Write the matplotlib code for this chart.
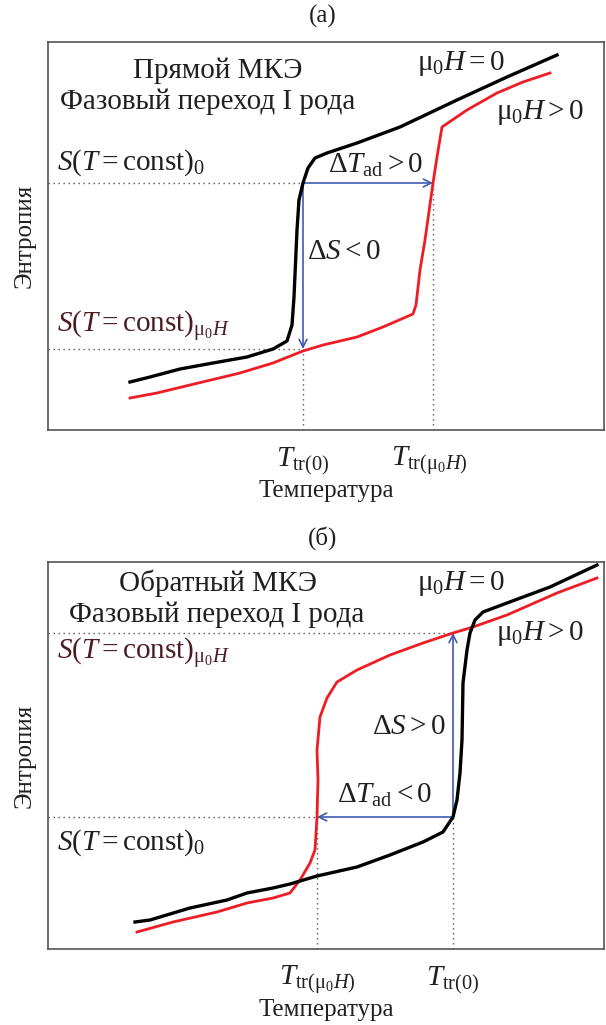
import matplotlib
matplotlib.use("Agg")
import matplotlib.pyplot as plt

plt.rcParams['font.family'] = ['Liberation Serif', 'DejaVu Serif']
plt.rcParams['mathtext.fontset'] = 'custom'
plt.rcParams['mathtext.rm'] = 'Liberation Serif'
plt.rcParams['mathtext.it'] = 'Liberation Serif:italic'
plt.rcParams['mathtext.bf'] = 'Liberation Serif:bold'

# panel (a): direct MCE, arbitrary units (T to the right, S upwards)
a_black_T = [130, 150, 180, 213, 247, 273, 287, 292, 294, 297, 299, 303, 308, 315, 327, 357, 400, 457, 507, 557]
a_black_S = [48, 53, 61, 67, 73, 81, 89, 105, 133, 200, 230, 247, 262, 272, 277, 287, 303, 330, 353, 375]
a_red_T = [130, 157, 190, 240, 273, 303, 323, 357, 383, 413, 416, 420, 425, 433, 437, 442, 467, 497, 523, 550]
a_red_S = [32, 37, 45, 57, 67, 79, 85, 93, 103, 116, 125, 160, 190, 247, 273, 303, 320, 337, 348, 357]
a_S0, a_SH = 247, 81
a_Ttr0, a_TtrH = 303, 433

# panel (b): inverse MCE
b_black_T = [135, 150, 190, 227, 247, 273, 290, 317, 357, 390, 423, 443, 453, 457, 460, 462, 463, 467, 470, 475, 483, 507, 550, 597]
b_black_S = [27, 29, 41, 49, 56, 61, 65, 73, 82, 94, 107, 117, 132, 149, 176, 209, 266, 299, 316, 329, 337, 346, 362, 384]
b_red_T = [137, 173, 217, 247, 273, 290, 300, 310, 315, 317, 318, 317, 320, 327, 337, 357, 390, 423, 453, 473, 507, 557, 597]
b_red_S = [17, 27, 37, 46, 51, 56, 69, 86, 99, 132, 169, 199, 232, 251, 267, 279, 294, 306, 316, 322, 334, 356, 371]
b_S0, b_SH = 132, 316
b_Ttr0, b_TtrH = 453, 317

TXT = '#231f20'
MAROON = '#4b1c22'
BLUE = '#3f5ab0'
GRID = '#555555'
FS = 21
LFS = 18

fig = plt.figure(figsize=(6.06, 10.25), dpi=100)
ax1 = fig.add_axes([48/606, 1 - 430/1025, 556/606, 388/1025])
ax2 = fig.add_axes([48/606, 1 - 949/1025, 556/606, 387/1025])


def setup(ax, top):
    ax.set_xlim(48, 604)
    ax.set_ylim(0, top)
    ax.set_xticks([])
    ax.set_yticks([])
    for sp in ax.spines.values():
        sp.set_color(GRID)
        sp.set_linewidth(1.2)
    ax.set_xlabel('Температура', fontsize=LFS, color=TXT, labelpad=36)
    ax.set_ylabel('Энтропия', fontsize=LFS, color=TXT, labelpad=9)


def dotted(ax, xs, ys):
    ax.plot(xs, ys, color=GRID, lw=1.0, ls=(0, (1, 2.6)), zorder=1)


def arrow(ax, x0, y0, x1, y1):
    ax.annotate('', xy=(x1, y1), xytext=(x0, y0),
                arrowprops=dict(arrowstyle='->', color=BLUE, lw=1.2,
                                shrinkA=0, shrinkB=0, mutation_scale=14),
                zorder=2)


mu = r'\mathrm{\mu}'
S0_lbl = r'$S(T = \mathrm{const})_0$'
SH_lbl = r'$S(T = \mathrm{const})_{' + mu + r'_0 H}$'
H0_lbl = r'$' + mu + r'_0 H = 0$'
Hp_lbl = r'$' + mu + r'_0 H > 0$'
Ttr0_lbl = r'$T_{\mathrm{tr(0)}}$'
TtrH_lbl = r'$T_{\mathrm{tr}(' + mu + r'_0 H)}$'

# ---------- (a)
setup(ax1, 388)
dotted(ax1, [48, a_Ttr0], [a_S0, a_S0])
dotted(ax1, [48, a_Ttr0], [a_SH, a_SH])
dotted(ax1, [a_Ttr0, a_Ttr0], [0, a_SH])
dotted(ax1, [a_TtrH, a_TtrH], [0, a_S0])
ax1.plot(a_red_T, a_red_S, color='#ee1c24', lw=2.0, zorder=3)
ax1.plot(a_black_T, a_black_S, color='black', lw=2.4, zorder=4)
arrow(ax1, a_Ttr0, a_S0, a_TtrH, a_S0)
arrow(ax1, a_Ttr0, a_S0, a_Ttr0, a_SH)

ax1.text(218, 359, 'Прямой МКЭ', fontsize=FS, color=TXT, ha='center', va='center')
ax1.text(208, 328, 'Фазовый переход I рода', fontsize=FS, color=TXT, ha='center', va='center')
ax1.text(461, 366, H0_lbl, fontsize=FS, color=TXT, ha='center', va='center')
ax1.text(540, 317, Hp_lbl, fontsize=FS, color=TXT, ha='center', va='center')
ax1.text(57, 267, S0_lbl, fontsize=FS, color=TXT, ha='left', va='center')
ax1.text(376, 265, r'$\Delta T_{\mathrm{ad}} > 0$', fontsize=FS, color=TXT, ha='center', va='center')
ax1.text(307, 178, r'$\Delta S < 0$', fontsize=FS, color=TXT, ha='left', va='center')
ax1.text(57, 103, SH_lbl, fontsize=FS, color=MAROON, ha='left', va='center')
ax1.text(a_Ttr0, -31, Ttr0_lbl, fontsize=FS, color=TXT, ha='center', va='center', clip_on=False)
ax1.text(a_TtrH - 4, -31, TtrH_lbl, fontsize=FS, color=TXT, ha='center', va='center', clip_on=False)
fig.text(323/606, 1 - 16/1025, '(а)', fontsize=LFS, color=TXT, ha='center', va='center')

# ---------- (б)
setup(ax2, 387)
dotted(ax2, [48, b_Ttr0], [b_SH, b_SH])
dotted(ax2, [48, b_TtrH], [b_S0, b_S0])
dotted(ax2, [b_TtrH, b_TtrH], [0, b_S0])
dotted(ax2, [b_Ttr0, b_Ttr0], [0, b_S0])
ax2.plot(b_red_T, b_red_S, color='#ee1c24', lw=2.0, zorder=3)
ax2.plot(b_black_T, b_black_S, color='black', lw=2.4, zorder=4)
arrow(ax2, b_Ttr0, b_S0, b_Ttr0, b_SH)
arrow(ax2, b_Ttr0, b_S0, b_TtrH, b_S0)

ax2.text(218, 366, 'Обратный МКЭ', fontsize=FS, color=TXT, ha='center', va='center')
ax2.text(217, 334, 'Фазовый переход I рода', fontsize=FS, color=TXT, ha='center', va='center')
ax2.text(461, 365, H0_lbl, fontsize=FS, color=TXT, ha='center', va='center')
ax2.text(540, 316, Hp_lbl, fontsize=FS, color=TXT, ha='center', va='center')
ax2.text(57, 296, SH_lbl, fontsize=FS, color=MAROON, ha='left', va='center')
ax2.text(409, 222, r'$\Delta S > 0$', fontsize=FS, color=TXT, ha='center', va='center')
ax2.text(385, 154, r'$\Delta T_{\mathrm{ad}} < 0$', fontsize=FS, color=TXT, ha='center', va='center')
ax2.text(57, 106, S0_lbl, fontsize=FS, color=TXT, ha='left', va='center')
ax2.text(b_TtrH, -31, TtrH_lbl, fontsize=FS, color=TXT, ha='center', va='center', clip_on=False)
ax2.text(b_Ttr0, -31, Ttr0_lbl, fontsize=FS, color=TXT, ha='center', va='center', clip_on=False)
fig.text(323/606, 1 - 538/1025, '(б)', fontsize=LFS, color=TXT, ha='center', va='center')

fig.savefig('out.png', dpi=100)
